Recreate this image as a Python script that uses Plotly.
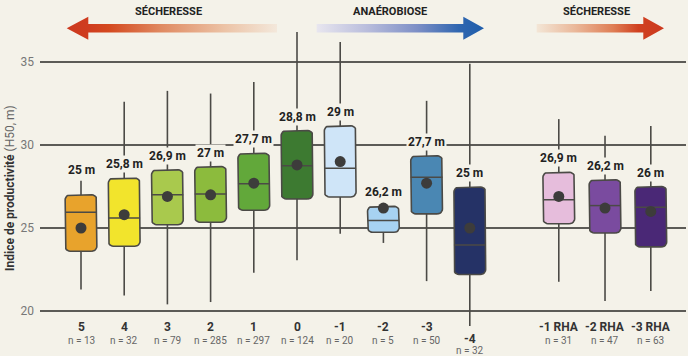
import plotly.graph_objects as go
import math

# ---------------- data ----------------
categories = ["5", "4", "3", "2", "1", "0", "-1", "-2", "-3", "-4", "-1 RHA", "-2 RHA", "-3 RHA"]
x_pos = [0, 1, 2, 3, 4, 5, 6, 7, 8, 9, 11.06, 12.13, 13.19]
n_obs = [13, 32, 79, 285, 297, 124, 20, 5, 50, 32, 31, 47, 63]
means = [25.0, 25.8, 26.9, 27.0, 27.7, 28.8, 29.0, 26.2, 27.7, 25.0, 26.9, 26.2, 26.0]
medians = [25.95, 25.6, 27.0, 27.05, 27.67, 28.75, 28.6, 25.45, 28.05, 23.98, 26.7, 26.35, 26.25]
q1 = [23.6, 23.9, 25.2, 25.35, 26.07, 26.75, 26.87, 24.74, 25.85, 22.2, 25.26, 24.7, 23.86]
q3 = [27.0, 28.0, 28.5, 28.7, 29.5, 30.87, 31.15, 26.3, 29.35, 27.47, 28.35, 27.9, 27.5]
whisk_lo = [21.3, 20.94, 20.4, 20.54, 22.3, 23.06, 24.66, 24.1, 21.8, 19.1, 21.76, 20.6, 21.2]
whisk_hi = [27.85, 32.6, 33.26, 33.1, 33.8, 36.8, 36.2, 26.3, 32.66, 34.9, 31.56, 30.55, 31.15]
colors = ["#e8a32c", "#f2e42c", "#a9c94d", "#8cbb3d", "#62a83a", "#3d7a31",
          "#cfe5f8", "#a7d2f2", "#4a87b3", "#253266", "#e6bddc", "#7a4b9f", "#4a2876"]
y_ticks = [20, 25, 30, 35]
arrow_labels = ["SÉCHERESSE", "ANAÉROBIOSE", "SÉCHERESSE"]

# ---------------- geometry ----------------
W, H = 688, 356
BG = "#f4f2e9"
PX_X = 43.2   # px per x unit
PX_Y = 16.6   # px per y unit
x_lo = (40 - 81) / PX_X
x_hi = (686 - 81) / PX_X
y_top = 35 + 62 / PX_Y
y_bot = 35 - (H - 62) / PX_Y
half_w = 0.367
rx, ry = 5 / PX_X, 5 / PX_Y
LINE = "#4b4a46"


def rounded_rect(x0, x1, y0, y1):
    xs, ys = [], []
    ryy = min(ry, (y1 - y0) / 2)
    corners = [
        (x1 - rx, y0 + ryy, -90),
        (x1 - rx, y1 - ryy, 0),
        (x0 + rx, y1 - ryy, 90),
        (x0 + rx, y0 + ryy, 180),
    ]
    for cx, cy, a0 in corners:
        for k in range(7):
            a = math.radians(a0 + 15 * k)
            xs.append(cx + rx * math.cos(a))
            ys.append(cy + ryy * math.sin(a))
    xs.append(xs[0])
    ys.append(ys[0])
    return xs, ys


fig = go.Figure()

# whiskers
wx, wy = [], []
for xp, lo, hi in zip(x_pos, whisk_lo, whisk_hi):
    wx += [xp, xp, None]
    wy += [lo, hi, None]
fig.add_trace(go.Scatter(x=wx, y=wy, mode="lines", line=dict(color=LINE, width=1.6),
                         hoverinfo="skip", showlegend=False))

# boxes
for xp, a, b, c in zip(x_pos, q1, q3, colors):
    bx, by = rounded_rect(xp - half_w, xp + half_w, a, b)
    fig.add_trace(go.Scatter(x=bx, y=by, mode="lines", fill="toself", fillcolor=c,
                             line=dict(color=LINE, width=1.6), hoverinfo="skip",
                             showlegend=False))

# medians
mx, my = [], []
for xp, m in zip(x_pos, medians):
    mx += [xp - half_w, xp + half_w, None]
    my += [m, m, None]
fig.add_trace(go.Scatter(x=mx, y=my, mode="lines", line=dict(color=LINE, width=1.5),
                         hoverinfo="skip", showlegend=False))

# means
fig.add_trace(go.Scatter(x=x_pos, y=means, mode="markers",
                         marker=dict(color="#3d3c3b", size=11), hoverinfo="skip",
                         showlegend=False))

annotations = []
FONT = "Roboto"
# value labels
for xp, m, top, hi in zip(x_pos, means, q3, whisk_hi):
    txt = f"{m:g}".replace(".", ",") + " m"
    shift = 14
    gap_px = (hi - top) * PX_Y
    if 4 < gap_px < 22:
        shift = gap_px + 11
    annotations.append(dict(x=xp, y=top, xref="x", yref="y", text=f"<b>{txt}</b>",
                            showarrow=False, yshift=shift, yanchor="middle",
                            font=dict(family=FONT, size=12, color="#222"),
                            bgcolor=BG, borderpad=1))

# category labels
for xp, cat, nn in zip(x_pos, categories, n_obs):
    if cat == "-4":
        s_cat, s_n = -28, -39
    else:
        s_cat, s_n = -16, -29
    annotations.append(dict(x=xp, y=20, xref="x", yref="y", text=f"<b>{cat}</b>",
                            showarrow=False, yshift=s_cat, yanchor="middle",
                            font=dict(family=FONT, size=12, color="#333")))
    annotations.append(dict(x=xp, y=20, xref="x", yref="y", text=f"n = {nn}",
                            showarrow=False, yshift=s_n, yanchor="middle",
                            font=dict(family=FONT, size=10, color="#666")))

# y axis title
annotations.append(dict(x=10 / W, y=1 - 188 / H, xref="paper", yref="paper",
                        text="<b>Indice de productivité</b> <span style='color:#666'>(H50, m)</span>",
                        textangle=-90, showarrow=False, xanchor="center", yanchor="middle",
                        font=dict(family=FONT, size=12, color="#333")))


# ---------------- top arrows (decoration, pixel overlay) ----------------
def arrow(x_tail, x_neck, x_tip, yc=28.3, sh=4.2, hh=11.5):
    xs = [x_tail, x_neck, x_neck, x_tip, x_neck, x_neck, x_tail, x_tail]
    ys = [yc - sh, yc - sh, yc - hh, yc, yc + hh, yc + sh, yc + sh, yc - sh]
    return xs, ys


arrows = [
    (277, 88.3, 66.7, [[0, "#cc3a1f"], [0.1, "#cf3c1f"], [0.2, "#d4491f"], [0.45, "#e08a62"],
                        [0.75, "#ecc3a6"], [1, "#f3e8db"]]),
    (316.7, 463.3, 484, [[0, "#e8e6ef"], [0.3, "#b9bddc"], [0.6, "#7d8fc6"], [0.85, "#2f66b0"],
                          [1, "#1f5eab"]]),
    (536.7, 643.3, 664, [[0, "#f3e6d6"], [0.3, "#eab89a"], [0.6, "#df7e55"], [0.8, "#d0401f"],
                          [1, "#cc3a1f"]]),
]
for tail, neck, tip, cs in arrows:
    ax, ay = arrow(tail, neck, tip)
    fig.add_trace(go.Scatter(x=ax, y=ay, xaxis="x2", yaxis="y2", mode="lines",
                             fill="toself", line=dict(width=0, color="rgba(0,0,0,0)"),
                             fillgradient=dict(type="horizontal", colorscale=cs,
                                               start=min(tail, tip), stop=max(tail, tip)),
                             hoverinfo="skip", showlegend=False))

for label, xc in zip(arrow_labels, [168, 390, 596]):
    annotations.append(dict(x=xc, y=11, xref="x2", yref="y2", text=f"<b>{label}</b>",
                            showarrow=False, xanchor="center", yanchor="middle",
                            font=dict(family=FONT, size=11, color="#222")))

fig.update_layout(
    width=W, height=H,
    margin=dict(l=0, r=0, t=0, b=0),
    paper_bgcolor=BG, plot_bgcolor=BG,
    showlegend=False,
    xaxis=dict(domain=[40 / W, 686 / W], range=[x_lo, x_hi], showgrid=False,
               zeroline=False, showticklabels=False, showline=False),
    yaxis=dict(domain=[0, 1], range=[y_bot, y_top], tickvals=y_ticks,
               ticktext=[str(t) for t in y_ticks], showgrid=True, gridcolor="#5c5b57",
               gridwidth=1.5, zeroline=False, showline=False, ticks="",
               ticklabelstandoff=5,
               tickfont=dict(family=FONT, size=12, color="#777")),
    xaxis2=dict(overlaying="x", anchor="y2", range=[40, 686], visible=False),
    yaxis2=dict(overlaying="y", anchor="x2", range=[H, 0], visible=False),
    annotations=annotations,
)

fig.write_html("out.html")
